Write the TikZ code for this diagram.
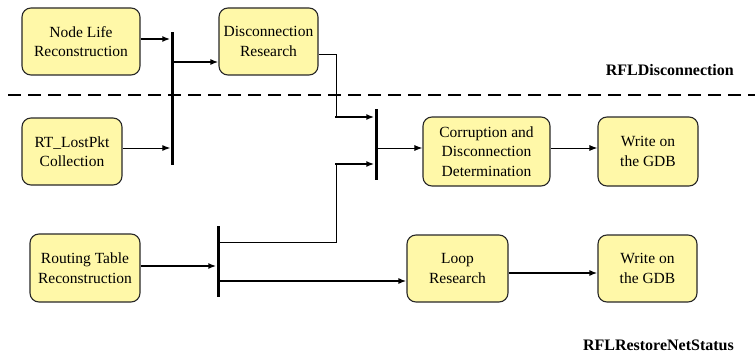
\documentclass[tikz,border=0pt]{standalone}
\usepackage{fontspec}
\setmainfont{Liberation Serif}
\usetikzlibrary{arrows.meta}
\definecolor{boxfill}{RGB}{255,248,168}
\definecolor{boxline}{RGB}{40,40,40}
\tikzset{
  proc/.style={draw=boxline, line width=1.1pt, fill=boxfill, rounded corners=9pt,
    align=center, inner sep=0pt, font=\fontsize{15.5}{19.5}\selectfont},
  bar/.style={fill=black, inner sep=0pt, minimum width=3pt},
  thin/.style={line width=1pt},
  thick/.style={line width=2.2pt},
  arr/.style={-{Latex[length=8pt,width=6pt]}},
  tag/.style={font=\fontsize{16}{18}\selectfont\bfseries, anchor=east, inner sep=0pt},
}
\begin{document}
\begin{tikzpicture}[x=1pt, y=-1pt]
\useasboundingbox (0,0) rectangle (755,361);

% process boxes
\node[proc, minimum width=118pt, minimum height=67pt] (nl) at (81,41.5) {Node Life\\Reconstruction};
\node[proc, minimum width=99pt, minimum height=67pt] (dr) at (268.5,41.5) {Disconnection\\Research};
\node[proc, minimum width=100pt, minimum height=67pt] (rt) at (72,151.5) {RT\_LostPkt\\Collection};
\node[proc, minimum width=127pt, minimum height=69pt] (cd) at (486.5,151.5) {Corruption and\\Disconnection\\Determination};
\node[proc, minimum width=100pt, minimum height=69pt] (w1) at (648,151.5) {Write on\\the GDB};
\node[proc, minimum width=110pt, minimum height=68pt] (rr) at (85,268) {Routing Table\\Reconstruction};
\node[proc, minimum width=101pt, minimum height=67pt] (lr) at (457.5,268.5) {Loop\\Research};
\node[proc, minimum width=99pt, minimum height=67pt] (w2) at (647.5,268.5) {Write on\\the GDB};

% synchronisation bars
\node[bar, minimum height=133pt] (b1) at (172,98.5) {};
\node[bar, minimum height=71pt] (b2) at (376,144.5) {};
\node[bar, minimum height=71pt] (b3) at (218,261.5) {};

% separator between the two phases
\draw[line width=2.6pt, dash pattern=on 13pt off 7pt] (8,95) -- (755,95);

% phase labels
\node[tag] (t1) at (734,70) {RFLDisconnection};
\node[tag] (t2) at (734,345) {RFLRestoreNetStatus};

% connectors of the first phase
\draw[thick, arr] (nl.east |- 0,39) -- (b1.west |- 0,39);
\draw[thin, arr] (rt.east |- 0,148) -- (b1.west |- 0,148);
\draw[thick, arr] (b1.east |- 0,62) -- (dr.west |- 0,62);
\draw[thin] (dr.east |- 0,55) -- (336,55) -- (336,117);
\draw[thick, arr] (335,117) -- (b2.west |- 0,117);

% connectors of the second phase
\draw[thick, arr] (rr.east |- 0,266) -- (b3.west |- 0,266);
\draw[thin] (b3.east |- 0,242) -- (336,242) -- (336,164);
\draw[thick, arr] (335,164) -- (b2.west |- 0,164);
\draw[thick, arr] (b3.east |- 0,281) -- (lr.west |- 0,281);
\draw[thin, arr] (b2.east |- 0,148) -- (cd.west |- 0,148);
\draw[thin, arr] (cd.east |- 0,148) -- (w1.west |- 0,148);
\draw[thick, arr] (lr.east |- 0,273) -- (w2.west |- 0,273);
\end{tikzpicture}
\end{document}
